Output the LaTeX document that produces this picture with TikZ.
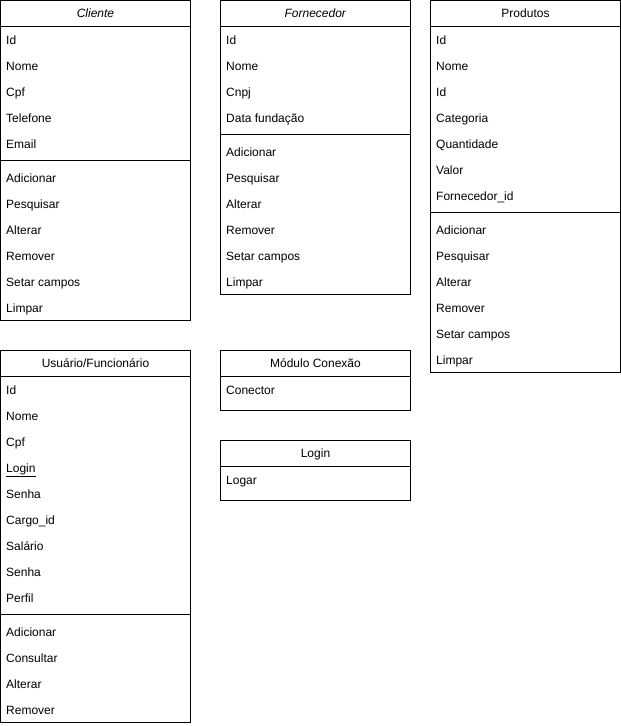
\documentclass[tikz,border=0pt]{standalone}
\usepackage{fontspec}
\setmainfont{Liberation Sans}
\tikzset{
  classbox/.style={draw=black, line width=1pt, anchor=north west, minimum width=190pt, inner sep=0pt, outer sep=0pt},
  ttl/.style={anchor=base, inner sep=0pt, font=\fontsize{12}{14}\selectfont},
  rowtxt/.style={anchor=base west, inner sep=0pt, font=\fontsize{12}{14}\selectfont},
  sepline/.style={line width=1pt}
}
% #1 name, #2 x, #3 y, #4 title, #5 n attrs, #6 attrs, #7 n methods, #8 methods
\newcommand\umlclass[8]{%
  \pgfmathsetmacro\ua{#3+26+26*#5}%
  \pgfmathsetmacro\ub{\ua+8+26*#7}%
  \pgfmathsetmacro\uh{\ub-#3}%
  \node[classbox, minimum height=\uh pt] (#1) at (#2+0.5,#3+0.5) {};
  \node[ttl] (#1-t) at (#2+95.5,#3+17.5) {#4};
  \coordinate (#1-h1) at (#2+0.5,#3+26.5);
  \coordinate (#1-h2) at (#2+190.5,#3+26.5);
  \draw[sepline] (#1-h1) -- (#1-h2);
  \foreach \t [count=\i] in {#6} {
    \node[rowtxt] (#1-a\i) at (#2+6,#3+26*\i+18.3) {\t};
  }
  \ifnum#7>0
    \coordinate (#1-s1) at (#2+0.5,\ua+4.5);
    \coordinate (#1-s2) at (#2+190.5,\ua+4.5);
    \draw[sepline] (#1-s1) -- (#1-s2);
    \foreach \t [count=\i] in {#8} {
      \node[rowtxt] (#1-m\i) at (#2+6,\ua+8+26*\i-26+18.3) {\t};
    }
  \fi
}
\begin{document}
\begin{tikzpicture}[x=1pt,y=-1pt]
\useasboundingbox (0,0) rectangle (621,726);
\umlclass{cliente}{0}{0}{\textit{Cliente}}{5}{Id,Nome,Cpf,Telefone,Email}{6}{Adicionar,Pesquisar,Alterar,Remover,Setar campos,Limpar}
\umlclass{fornecedor}{220}{0}{\textit{Fornecedor}}{4}{Id,Nome,Cnpj,Data fundação}{6}{Adicionar,Pesquisar,Alterar,Remover,Setar campos,Limpar}
\umlclass{produtos}{430}{0}{Produtos}{7}{Id,Nome,Id,Categoria,Quantidade,Valor,Fornecedor\_id}{6}{Adicionar,Pesquisar,Alterar,Remover,Setar campos,Limpar}
\umlclass{usuario}{0}{350}{Usuário/Funcionário}{9}{Id,Nome,Cpf,\underline{Login},Senha,Cargo\_id,Salário,Senha,Perfil}{4}{Adicionar,Consultar,Alterar,Remover}
\umlclass{conexao}{220}{350}{Módulo Conexão}{1}{Conector}{0}{}
\umlclass{login}{220}{440}{Login}{1}{Logar}{0}{}
\end{tikzpicture}
\end{document}
